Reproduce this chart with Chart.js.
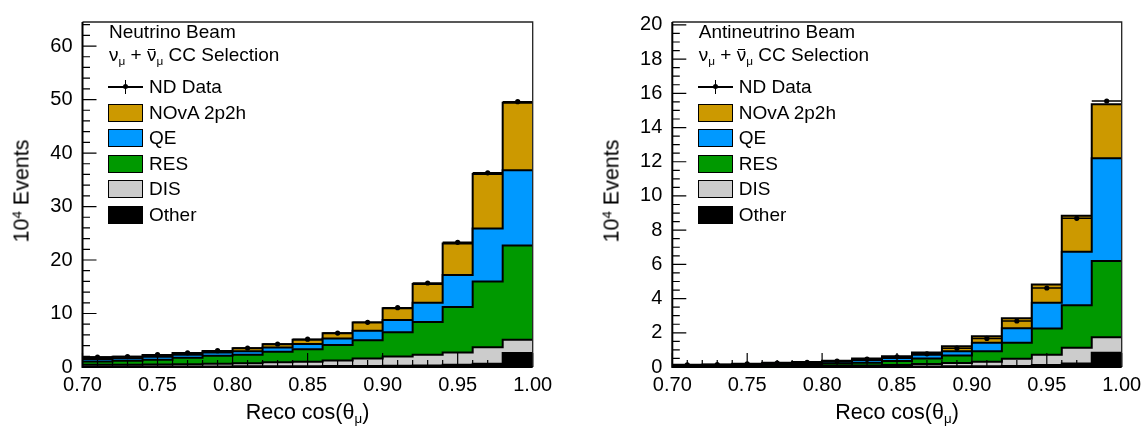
<!DOCTYPE html>
<html><head><meta charset="utf-8">
<script src="https://cdn.jsdelivr.net/npm/chart.js@4.4.1/dist/chart.umd.min.js"></script>
<style>
html,body{margin:0;padding:0;background:#fff;}
#wrap{position:relative;width:1148px;height:435px;overflow:hidden;font-family:"Liberation Sans",Arial,Helvetica,sans-serif;color:#000;}
canvas{position:absolute;top:0;}
.t{position:absolute;white-space:nowrap;font-size:19px;line-height:26px;height:26px;}
.box{position:absolute;width:33px;height:16px;border:1.5px solid #000;}
.sym{position:absolute;width:35px;height:16px;}
.sym .h{position:absolute;left:0;right:0;top:7px;height:1.5px;background:#000;}
.sym .v{position:absolute;left:16.8px;width:1.5px;top:1px;height:14px;background:#000;}
.sym .d{position:absolute;left:15px;top:5.2px;width:5px;height:5px;border-radius:50%;background:#000;}
sub{font-size:0.62em;vertical-align:-0.35em;line-height:0;}
sup{font-size:0.62em;vertical-align:0.55em;line-height:0;}
.bar{position:relative;}
.bar::after{content:'';position:absolute;left:1px;right:1px;top:5px;border-top:1.4px solid #000;}
.ytitle{position:absolute;white-space:nowrap;font-size:21.5px;transform:translate(-50%,-50%) rotate(-90deg);}
.xtitle{position:absolute;white-space:nowrap;font-size:21.5px;transform:translate(-50%,-50%);}
</style>
</head><body>
<div id="wrap">
<canvas id="cNu" width="590" height="435" style="left:0px;width:590px;height:435px"></canvas>
<canvas id="cAnu" width="558" height="435" style="left:590px;width:558px;height:435px"></canvas>
</div>
<script>
// ---- data ----
const binEdges = [0.70,0.72,0.74,0.76,0.78,0.80,0.82,0.84,0.86,0.88,0.90,0.92,0.94,0.96,0.98,1.00];
const xTickValues = [0.70,0.75,0.80,0.85,0.90,0.95,1.00];
const componentNames = ['Other','DIS','RES','QE','NOvA 2p2h'];
const componentColors = ['#000000','#cccccc','#009900','#0099ff','#cc9900'];

// Neutrino beam (10^4 events)
const nuOther = [0.08,0.08,0.09,0.10,0.10,0.12,0.13,0.15,0.17,0.20,0.22,0.26,0.40,0.60,2.60];
const nuDIS   = [0.32,0.34,0.36,0.40,0.50,0.58,0.77,0.85,1.03,1.40,1.73,2.04,2.30,3.10,2.50];
const nuRES   = [0.65,0.73,0.90,1.25,1.50,1.60,1.95,2.30,2.90,3.40,4.55,6.10,8.50,12.30,17.60];
const nuQE    = [0.45,0.50,0.55,0.55,0.60,0.65,0.80,1.00,1.25,1.80,2.30,3.60,6.00,9.90,14.10];
const nu2p2h  = [0.30,0.25,0.35,0.30,0.30,0.55,0.60,0.80,0.95,1.50,2.20,3.50,5.90,10.20,12.60];
const nuData  = [1.85,1.95,2.30,2.65,3.05,3.55,4.30,5.20,6.35,8.35,11.10,15.70,23.30,36.30,49.60];
const nuYTickValues = [0,10,20,30,40,50,60];

// Antineutrino beam (10^4 events)
const anuOther = [0.01,0.01,0.01,0.02,0.02,0.02,0.02,0.03,0.03,0.04,0.05,0.06,0.12,0.21,0.84];
const anuDIS   = [0.02,0.02,0.03,0.03,0.04,0.05,0.07,0.09,0.14,0.19,0.26,0.42,0.59,0.92,0.90];
const anuRES   = [0.04,0.04,0.06,0.08,0.10,0.13,0.16,0.23,0.33,0.44,0.61,0.94,1.54,2.48,4.45];
const anuQE    = [0.03,0.04,0.05,0.07,0.08,0.11,0.16,0.18,0.22,0.25,0.50,0.85,1.50,3.13,6.01];
const anu2p2h  = [0.03,0.03,0.04,0.05,0.05,0.06,0.09,0.10,0.13,0.29,0.38,0.58,1.08,2.10,3.16];
const anuData  = [0.13,0.14,0.18,0.23,0.27,0.35,0.46,0.60,0.77,1.10,1.67,2.69,4.62,8.69,15.55];
const anuYTickValues = [0,2,4,6,8,10,12,14,16,18,20];

const FONT = '"Liberation Sans", Arial, Helvetica, sans-serif';

function stepPoints(vals){
  return binEdges.map((e,i)=>({x:e, y:vals[Math.min(i, vals.length-1)]}));
}
function centerPoints(vals){
  return vals.map((v,i)=>({x:(binEdges[i]+binEdges[i+1])/2, y:v}));
}

const frameTicks = {
  id:'frameTicks',
  afterDraw(chart, args, o){
    const {ctx, chartArea:a, scales:{x, y}} = chart;
    ctx.save();
    ctx.strokeStyle = '#000';
    ctx.lineWidth = 1.2;
    ctx.beginPath();
    for(let k=0; k*o.yMinor <= y.max + 1e-9; k++){
      const py = y.getPixelForValue(k*o.yMinor);
      ctx.moveTo(a.left, py); ctx.lineTo(a.left + 7.5, py);
    }
    for(const t of y.ticks){
      const py = y.getPixelForValue(t.value);
      ctx.moveTo(a.left, py); ctx.lineTo(a.left + 14, py);
    }
    for(let k=0; binEdges[0] + k*o.xMinor <= x.max + 1e-9; k++){
      const px = x.getPixelForValue(binEdges[0] + k*o.xMinor);
      ctx.moveTo(px, a.bottom); ctx.lineTo(px, a.bottom - 7);
    }
    for(const t of x.ticks){
      const px = x.getPixelForValue(t.value);
      ctx.moveTo(px, a.bottom); ctx.lineTo(px, a.bottom - 14);
    }
    ctx.stroke();
    ctx.lineWidth = 1.3;
    ctx.strokeStyle = '#222';
    ctx.beginPath();
    ctx.moveTo(a.left, a.top); ctx.lineTo(a.right, a.top); ctx.lineTo(a.right, a.bottom);
    ctx.stroke();
    ctx.lineWidth = 2;
    ctx.strokeStyle = '#000';
    ctx.beginPath();
    ctx.moveTo(a.left, a.top); ctx.lineTo(a.left, a.bottom); ctx.lineTo(a.right, a.bottom);
    ctx.stroke();
    ctx.restore();
  }
};

function makeChart(id, comps, data, yMax, yTickValues, yMinor, yAxisWidth, padRight){
  const binPx = (chart)=> chart.scales.x.getPixelForValue(binEdges[1]) - chart.scales.x.getPixelForValue(binEdges[0]);
  const datasets = [
    {label:'ND Data', data:centerPoints(data), stack:'dataDot', showLine:false,
     pointStyle:'circle', pointRadius:2.6, pointBackgroundColor:'#000', pointBorderColor:'#000', pointBorderWidth:0, fill:false},
    {label:'ND Data bar', data:centerPoints(data), stack:'dataBar', showLine:false,
     pointStyle:'line', pointRadius:(ctx)=>binPx(ctx.chart)/2, pointBorderColor:'#000', pointBorderWidth:1.5, fill:false}
  ];
  comps.forEach((vals,i)=>{
    datasets.push({
      label:componentNames[i], data:stepPoints(vals), stack:'mc', stepped:'before',
      backgroundColor:componentColors[i], borderColor:'#000', borderWidth:2,
      pointRadius:0, fill: i===0 ? 'origin' : '-1'
    });
  });
  return new Chart(document.getElementById(id), {
    type:'line',
    data:{datasets},
    plugins:[frameTicks],
    options:{
      responsive:false, animation:false, devicePixelRatio:1,
      layout:{padding:{left:0, right:padRight, top:14.5, bottom:0}},
      plugins:{legend:{display:false}, tooltip:{enabled:false}, frameTicks:{yMinor, xMinor:0.01}},
      scales:{
        x:{type:'linear', min:binEdges[0], max:binEdges[binEdges.length-1],
           grid:{display:false, drawTicks:false}, border:{display:false},
           afterBuildTicks:(s)=>{s.ticks = xTickValues.map(v=>({value:v}));},
           afterFit:(s)=>{s.height = 68;},
           ticks:{autoSkip:false, maxRotation:0, padding:6.5, color:'#000', font:{family:FONT, size:20},
                  callback:(v)=>Number(v).toFixed(2)}},
        y:{type:'linear', stacked:true, min:0, max:yMax,
           grid:{display:false, drawTicks:false}, border:{display:false},
           afterBuildTicks:(s)=>{s.ticks = yTickValues.map(v=>({value:v}));},
           afterFit:(s)=>{s.width = yAxisWidth;},
           ticks:{padding:10, color:'#000', font:{family:FONT, size:20}, callback:(v)=>String(v)}}
      }
    }
  });
}

makeChart('cNu', [nuOther,nuDIS,nuRES,nuQE,nu2p2h], nuData, 64.5, nuYTickValues, 2, 82.5, 57.3);
makeChart('cAnu', [anuOther,anuDIS,anuRES,anuQE,anu2p2h], anuData, 20.17, anuYTickValues, 0.5, 82.3, 26.3);

// ---- HTML overlays: legends and axis titles ----
const wrap = document.getElementById('wrap');
function add(html){ const d=document.createElement('div'); d.innerHTML=html; wrap.appendChild(d.firstElementChild); }
function legend(L, title){
  const rowC = [32,55,87,113,138,164,189,215];
  add(`<div class="t" style="left:${L+26.5}px;top:${rowC[0]-13}px">${title}</div>`);
  add(`<div class="t" style="left:${L+26.5}px;top:${rowC[1]-13}px">ν<sub>μ</sub> + <span class="bar">ν</span><sub>μ</sub> CC Selection</div>`);
  add(`<div class="sym" style="left:${L+25.5}px;top:${rowC[2]-8}px"><div class="h"></div><div class="v"></div><div class="d"></div></div>`);
  add(`<div class="t" style="left:${L+66.5}px;top:${rowC[2]-13}px">ND Data</div>`);
  for(let j=0;j<componentNames.length;j++){
    const i = componentNames.length-1-j;
    const c = rowC[3+j];
    add(`<div class="box" style="left:${L+25.5}px;top:${c-9.5}px;background:${componentColors[i]}"></div>`);
    add(`<div class="t" style="left:${L+66.5}px;top:${c-13}px">${componentNames[i]}</div>`);
  }
}
legend(82.5, 'Neutrino Beam');
legend(672.3, 'Antineutrino Beam');
add(`<div class="ytitle" style="left:22px;top:191px">10<sup>4</sup> Events</div>`);
add(`<div class="ytitle" style="left:612px;top:191px">10<sup>4</sup> Events</div>`);
add(`<div class="xtitle" style="left:307.5px;top:412px">Reco cos(θ<sub>μ</sub>)</div>`);
add(`<div class="xtitle" style="left:897px;top:412px">Reco cos(θ<sub>μ</sub>)</div>`);
</script>
</body></html>
